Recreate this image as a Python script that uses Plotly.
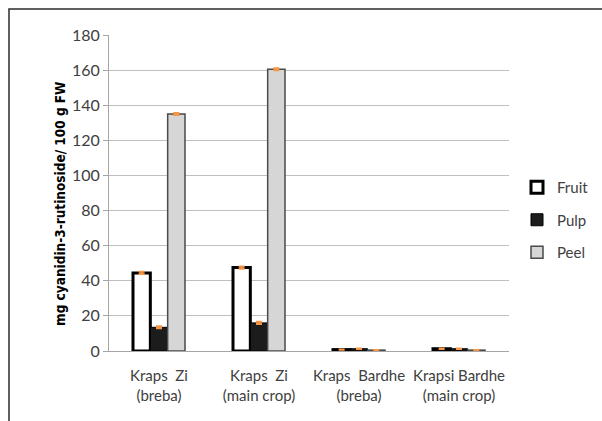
import plotly.graph_objects as go

# Cultivars / harvests on the category axis
categories = [
    "Kraps  Zi<br>(breba)",
    "Kraps  Zi<br>(main crop)",
    "Kraps  Bardhe<br>(breba)",
    "Krapsi Bardhe<br>(main crop)",
]

# Anthocyanin content, mg cyanidin-3-rutinoside / 100 g FW
fruit = [44.5, 47.5, 0.8, 1.3]
pulp = [13.5, 16.0, 1.3, 1.3]
peel = [135.0, 160.5, 0.5, 0.5]

# Standard deviations
fruit_sd = [0.6, 0.6, 0.1, 0.1]
pulp_sd = [0.6, 0.6, 0.1, 0.1]
peel_sd = [0.6, 0.6, 0.1, 0.1]

y_ticks = [0, 20, 40, 60, 80, 100, 120, 140, 160, 180]

FONT = "Lato, Carlito, sans-serif"
ERR = dict(type="data", color="#f79646", thickness=2, width=3, visible=True)

fig = go.Figure()
fig.add_trace(go.Bar(
    name="Fruit", x=categories, y=fruit,
    error_y=dict(array=fruit_sd, **ERR),
    marker=dict(color="white", line=dict(color="black", width=3)),
    legendgroup="a",
))
fig.add_trace(go.Bar(
    name="Pulp", x=categories, y=pulp,
    error_y=dict(array=pulp_sd, **ERR),
    marker=dict(color="#1c1c1c", line=dict(color="#000000", width=1)),
    legendgroup="b",
))
fig.add_trace(go.Bar(
    name="Peel", x=categories, y=peel,
    error_y=dict(array=peel_sd, **ERR),
    marker=dict(color="#d6d6d6", line=dict(color="#4a4a4a", width=1.5)),
    legendgroup="c",
))

# Plot-area geometry in pixels
L, R, T, B = 109, 93, 35, 70
W, H = 602, 421
pw, ph = W - L - R, H - T - B
def px_x(p):
    return (p - L) / pw
def px_y(p):
    return (H - B - p) / ph

# Outer frame around the whole chart
fig.add_shape(
    type="rect", xref="paper", yref="paper",
    x0=px_x(9), x1=px_x(610), y0=px_y(430), y1=px_y(9),
    line=dict(color="#2b2b2b", width=1.5), fillcolor="rgba(0,0,0,0)",
    layer="below",
)

# Vertical axis title
fig.add_annotation(
    xref="paper", yref="paper", x=px_x(60), y=px_y(204),
    text="<b>mg cyanidin-3-rutinoside/ 100 g FW</b>",
    textangle=-90, showarrow=False, xanchor="center", yanchor="middle",
    font=dict(family="DejaVu Sans Condensed, sans-serif", size=13.5, color="black"),
)

fig.update_layout(
    width=W, height=H,
    margin=dict(l=L, r=R, t=T, b=B, autoexpand=False),
    paper_bgcolor="white", plot_bgcolor="white",
    barmode="group", bargap=0.48, bargroupgap=0,
    font=dict(family=FONT, size=15, color="#404040"),
    showlegend=True,
    legend=dict(
        x=px_x(517), y=px_y(171), xanchor="left", yanchor="top",
        font=dict(family=FONT, size=15, color="#404040"),
        traceorder="grouped", tracegroupgap=10,
        itemwidth=30, bgcolor="rgba(0,0,0,0)",
    ),
    xaxis=dict(
        showline=True, linecolor="#a6a6a6", linewidth=1,
        ticks="", ticklabelstandoff=11, tickangle=0,
        tickfont=dict(family=FONT, size=15, color="#404040"),
        showgrid=False,
    ),
    yaxis=dict(
        range=[0, 180], tickvals=y_ticks,
        showline=True, linecolor="#a6a6a6", linewidth=1,
        ticks="outside", ticklen=5, tickcolor="#a6a6a6",
        showgrid=True, gridcolor="#bfbfbf", gridwidth=1,
        zeroline=False,
        tickfont=dict(family=FONT, size=16, color="#404040"),
    ),
)

fig.write_html("out.html")
